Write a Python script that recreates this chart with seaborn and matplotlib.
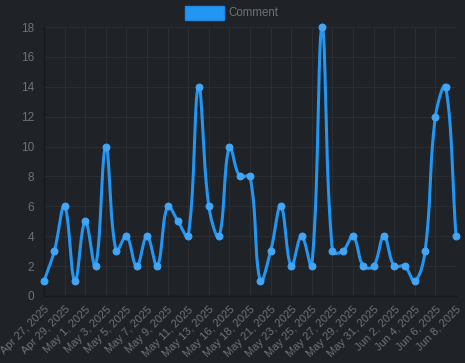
import numpy as np
import pandas as pd
import matplotlib
matplotlib.use("Agg")
import matplotlib.pyplot as plt
import seaborn as sns

dates = ["Apr 27, 2025", "Apr 28, 2025", "Apr 29, 2025", "Apr 30, 2025", "May 1, 2025",
         "May 2, 2025", "May 3, 2025", "May 4, 2025", "May 5, 2025", "May 6, 2025",
         "May 7, 2025", "May 8, 2025", "May 9, 2025", "May 10, 2025", "May 11, 2025",
         "May 12, 2025", "May 13, 2025", "May 15, 2025", "May 16, 2025", "May 17, 2025",
         "May 18, 2025", "May 20, 2025", "May 21, 2025", "May 22, 2025", "May 23, 2025",
         "May 24, 2025", "May 25, 2025", "May 26, 2025", "May 27, 2025", "May 28, 2025",
         "May 29, 2025", "May 30, 2025", "May 31, 2025", "Jun 1, 2025", "Jun 2, 2025",
         "Jun 3, 2025", "Jun 4, 2025", "Jun 5, 2025", "Jun 6, 2025", "Jun 7, 2025",
         "Jun 8, 2025"]
comments = [1, 3, 6, 1, 5, 2, 10, 3, 4, 2, 4, 2, 6, 5, 4, 14, 6, 4, 10, 8,
            8, 1, 3, 6, 2, 4, 2, 18, 3, 3, 4, 2, 2, 4, 2, 2, 1, 3, 12, 14, 4]
y_ticks = [0, 2, 4, 6, 8, 10, 12, 14, 16, 18]

BG = "#1f2226"
GRID = "#2a2d31"
TEXT = "#6f7275"
LINE = "#2196f3"
POINT = "#42a5f5"

sns.set_theme(style="dark")
plt.rcParams["font.family"] = ["Liberation Sans", "DejaVu Sans"]

fig = plt.figure(figsize=(4.65, 3.63), dpi=100, facecolor=BG)
ax = fig.add_axes([44 / 465, 67 / 363, 412 / 465, 269 / 363])
ax.set_facecolor(BG)

# Chart.js-like cubic spline (tension 0.4), computed in pixel space
n = len(comments)
xs = np.arange(n, dtype=float)
ys = np.array(comments, dtype=float)
sx, sy = 412 / (n - 1), 269 / 18
px, py = xs * sx, ys * sy
t = 0.4
cp1 = np.zeros((n, 2)); cp2 = np.zeros((n, 2))
for i in range(n):
    prev = np.array([px[max(i - 1, 0)], py[max(i - 1, 0)]])
    cur = np.array([px[i], py[i]])
    nxt = np.array([px[min(i + 1, n - 1)], py[min(i + 1, n - 1)]])
    d01 = np.hypot(*(cur - prev)); d12 = np.hypot(*(nxt - cur))
    tot = d01 + d12
    s01 = d01 / tot if tot else 0; s12 = d12 / tot if tot else 0
    cp1[i] = cur - t * s01 * (nxt - prev)
    cp2[i] = cur + t * s12 * (nxt - prev)
    cp1[i, 1] = np.clip(cp1[i, 1], 0, 18 * sy); cp2[i, 1] = np.clip(cp2[i, 1], 0, 18 * sy)
sm_x, sm_y = [], []
u = np.linspace(0, 1, 30)
for i in range(n - 1):
    p0 = np.array([px[i], py[i]]); p3 = np.array([px[i + 1], py[i + 1]])
    p1 = cp2[i]; p2 = cp1[i + 1]
    b = ((1 - u) ** 3)[:, None] * p0 + (3 * (1 - u) ** 2 * u)[:, None] * p1 + \
        (3 * (1 - u) * u ** 2)[:, None] * p2 + (u ** 3)[:, None] * p3
    sm_x.extend(b[:, 0] / sx); sm_y.extend(b[:, 1] / sy)
smooth = pd.DataFrame({"x": sm_x, "y": sm_y})
pts = pd.DataFrame({"x": xs, "y": ys})

sns.lineplot(data=smooth, x="x", y="y", ax=ax, color=LINE, linewidth=2.2,
             sort=False, estimator=None, clip_on=False, zorder=3)
sns.scatterplot(data=pts, x="x", y="y", ax=ax, color=POINT, s=24,
                edgecolor=POINT, linewidth=0.8, clip_on=False, zorder=4)

ax.set_xlim(0, n - 1)
ax.set_ylim(0, 18)
ax.set_xticks(np.arange(0, n, 2))
ax.set_xticklabels([dates[i] for i in range(0, n, 2)], rotation=45,
                   ha="right", va="top", rotation_mode="anchor")
ax.set_yticks(y_ticks)
ax.set_yticklabels([str(v) for v in y_ticks])
ax.tick_params(axis="y", colors=TEXT, labelsize=8.5, length=0, pad=7)
ax.tick_params(axis="x", colors=TEXT, labelsize=8, length=0, pad=6)
ax.grid(True, color=GRID, linewidth=0.8)
ax.set_axisbelow(True)
for side in ["top", "right"]:
    ax.spines[side].set_visible(False)
for side in ["left", "bottom"]:
    ax.spines[side].set_color("#16181b")
    ax.spines[side].set_linewidth(1)
ax.set_xlabel(""); ax.set_ylabel("")

# legend
fig.patches.append(plt.Rectangle((185 / 465, 1 - 20 / 363), 39 / 465, 14 / 363,
                                 transform=fig.transFigure, facecolor=LINE,
                                 edgecolor="#1e88e5", linewidth=1))
fig.text(228 / 465, 1 - 13 / 363, "Comment", color=TEXT, fontsize=8.3,
         va="center", ha="left")

fig.savefig("out.png", dpi=100, facecolor=BG)
